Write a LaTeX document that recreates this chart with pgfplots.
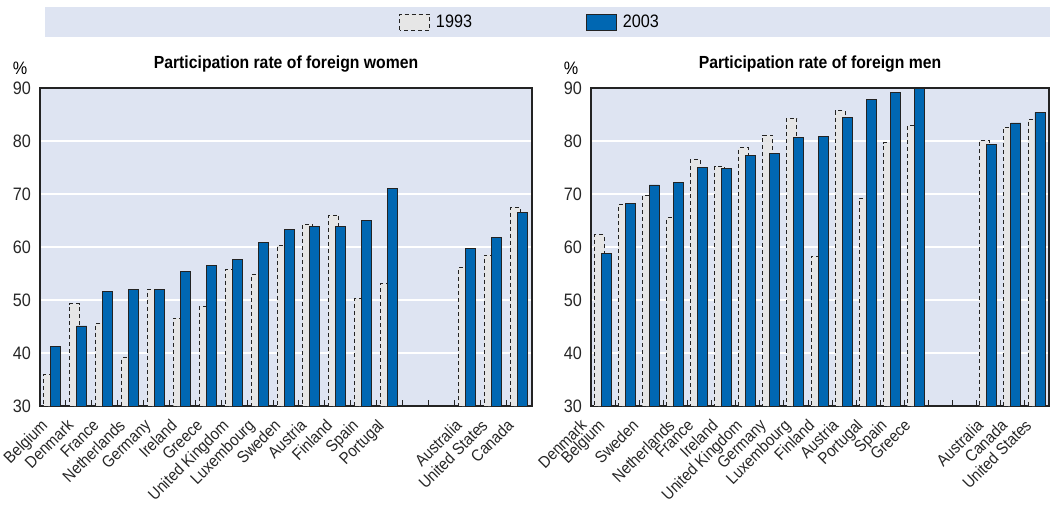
\documentclass[border=0pt]{standalone}
\usepackage{fontspec}
\setmainfont{Liberation Sans}[FakeStretch=0.9]
\usepackage{pgfplots}
\pgfplotsset{compat=1.18}
\usepackage{pgfplotstable}

\definecolor{bandbg}{RGB}{222,228,242}
\definecolor{oecdblue}{RGB}{0,103,178}
\definecolor{oldgrey}{RGB}{230,230,230}
\definecolor{framecol}{RGB}{35,35,35}

% participation rates, 1993 and 2003 (slots 14 and 15 left empty)
\pgfplotstableread{
x  y93  y03
0  35.9 41.3
1  49.3 45.1
2  45.6 51.6
3  39.1 52.0
4  52.0 52.0
5  46.6 55.3
6  48.8 56.5
7  55.8 57.7
8  54.8 60.9
9  60.3 63.3
10 64.3 63.8
11 66.0 63.8
12 50.3 65.0
13 53.1 71.0
16 56.1 59.7
17 58.5 61.8
18 67.5 66.5
}\women

\pgfplotstableread{
x  y93  y03
0  62.3 58.8
1  68.0 68.2
2  69.7 71.7
3  65.5 72.2
4  76.5 75.0
5  75.2 74.9
6  78.7 77.2
7  81.1 77.7
8  84.3 80.6
9  58.3 80.9
10 85.7 84.4
11 69.2 87.9
12 79.7 89.1
13 82.9 90.0
16 80.1 79.4
17 82.6 83.4
18 84.0 85.4
}\men

\pgfplotsset{
  partaxis/.style={
    scale only axis,
    anchor=south west,
    height=318pt,
    ybar,
    ymin=30, ymax=90,
    ytick={30,40,...,90},
    xmin=-0.5, xmax=18.5,
    xtick={0,...,13,16,17,18},
    minor xtick={0.5,1.5,...,17.5},
    major tick length=0pt,
    minor tick length=6pt,
    tick align=inside,
    xtick pos=bottom,
    ytick pos=left,
    ytick style={draw=none},
    minor tick style={draw=framecol, line width=0.9pt},
    ymajorgrids,
    major grid style={white, line width=2pt},
    axis background/.style={fill=bandbg},
    axis line style={framecol, line width=2.2pt},
    /pgf/number format/assume math mode=true,
    yticklabel style={font=\fontsize{18}{20}\selectfont, inner sep=0pt, xshift=-9pt, text=black!85},
    xticklabel style={font=\fontsize{16.5}{18}\selectfont, xshift=-13pt, yshift=-12pt, rotate=45, anchor=north east, inner sep=0pt, text=black!85},
    title style={font=\fontsize{17.5}{20}\selectfont\bfseries, at={(0.5,1)}, anchor=south, inner sep=0pt, yshift=10pt},
    clip=false,
    legend image code/.code={\draw[##1, bar shift=0pt] (0pt,-8pt) rectangle (30pt,8pt);},
  },
  old/.style={bar width=10pt, bar shift=-4pt, fill=oldgrey, draw=framecol, line width=0.9pt, dash pattern=on 4pt off 3pt},
  new/.style={bar width=10pt, bar shift=3pt, fill=oecdblue, draw=framecol, line width=0.9pt, solid},
}

\begin{document}
\begin{tikzpicture}
\useasboundingbox (0pt,0pt) rectangle (1050pt,-505pt);
\fill[bandbg] (45pt,-7pt) rectangle (1050pt,-37pt);

\begin{axis}[
  partaxis,
  at={(40pt,-406pt)},
  width=492pt,
  title={Participation rate of foreign women},
  xticklabels={Belgium,Denmark,France,Netherlands,Germany,Ireland,Greece,United Kingdom,Luxembourg,Sweden,Austria,Finland,Spain,Portugal,Australia,United States,Canada},
  legend columns=2,
  legend style={at={(axis description cs:0.996,1.2075)}, anchor=center, draw=none, fill=none,
    font=\fontsize{18}{20}\selectfont,
    /tikz/every even column/.append style={column sep=112pt}},
]
\addplot[old] table[x=x,y=y93]{\women};
\addplot[new] table[x=x,y=y03]{\women};
\legend{\hspace*{4pt}1993,\hspace*{4pt}2003}
\node[font=\fontsize{18}{20}\selectfont, anchor=south, inner sep=0pt] at (rel axis cs:0,1) [xshift=-20pt, yshift=13pt] {\%};
\end{axis}

\begin{axis}[
  partaxis,
  at={(591pt,-406pt)},
  width=458pt,
  title={Participation rate of foreign men},
  xtick={-0.45,0.3,1.7,3.2,4,5,6,7,8,9,10,11,12,13,16,17,18},
  xticklabels={Denmark,Belgium,Sweden,Netherlands,France,Ireland,United Kingdom,Germany,Luxembourg,Finland,Austria,Portugal,Spain,Greece,Australia,Canada,United States},
]
\addplot[old] table[x=x,y=y93]{\men};
\addplot[new] table[x=x,y=y03]{\men};
\node[font=\fontsize{18}{20}\selectfont, anchor=south, inner sep=0pt] at (rel axis cs:0,1) [xshift=-20pt, yshift=13pt] {\%};
\end{axis}
\end{tikzpicture}
\end{document}
